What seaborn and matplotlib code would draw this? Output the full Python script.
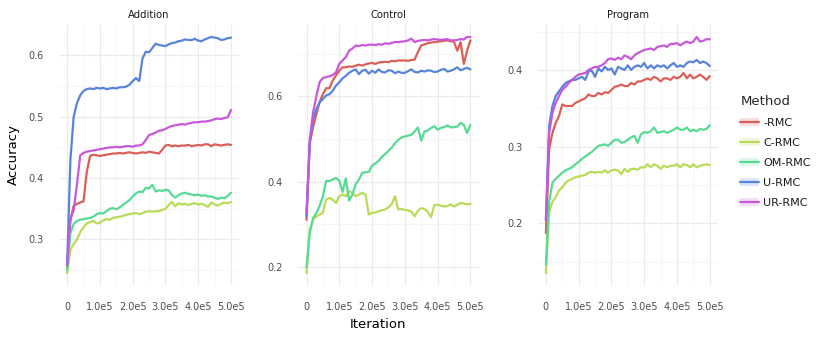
"""Accuracy vs. iteration for the RMC variants, one panel per task."""

import pandas as pd
import matplotlib
matplotlib.use("Agg")
import matplotlib.pyplot as plt
from matplotlib.lines import Line2D
from matplotlib.patches import Patch
from matplotlib.ticker import MultipleLocator, FuncFormatter
import seaborn as sns

# evaluation checkpoints (every 1e4 iterations)
iterations = list(range(0, 500001, 10000))

methods = ["-RMC", "C-RMC", "OM-RMC", "U-RMC", "UR-RMC"]
tasks = ["Addition", "Control", "Program"]

# ── Addition ─────────────────────────────────────────────────────────────────
add_rmc = [0.255, 0.330, 0.355, 0.358, 0.360, 0.362, 0.410, 0.436, 0.438, 0.437,
           0.436, 0.437, 0.438, 0.439, 0.440, 0.440, 0.441, 0.440, 0.441, 0.442,
           0.441, 0.440, 0.441, 0.442, 0.441, 0.443, 0.442, 0.441, 0.440, 0.446,
           0.453, 0.454, 0.452, 0.453, 0.452, 0.453, 0.453, 0.454, 0.452, 0.453,
           0.454, 0.453, 0.455, 0.455, 0.452, 0.455, 0.454, 0.453, 0.454, 0.455,
           0.454]
add_c_rmc = [0.245, 0.283, 0.292, 0.300, 0.312, 0.320, 0.326, 0.328, 0.330, 0.326,
             0.327, 0.331, 0.333, 0.332, 0.335, 0.336, 0.337, 0.338, 0.340, 0.341,
             0.342, 0.343, 0.341, 0.343, 0.345, 0.346, 0.345, 0.346, 0.346, 0.348,
             0.350, 0.356, 0.361, 0.354, 0.359, 0.357, 0.358, 0.356, 0.358, 0.359,
             0.357, 0.358, 0.356, 0.353, 0.360, 0.357, 0.355, 0.358, 0.360, 0.359,
             0.361]
add_om_rmc = [0.250, 0.310, 0.325, 0.330, 0.332, 0.333, 0.334, 0.335, 0.337, 0.341,
              0.343, 0.342, 0.346, 0.350, 0.351, 0.349, 0.352, 0.356, 0.360, 0.364,
              0.370, 0.375, 0.378, 0.377, 0.384, 0.383, 0.389, 0.378, 0.380, 0.379,
              0.381, 0.380, 0.372, 0.368, 0.372, 0.375, 0.376, 0.374, 0.373, 0.372,
              0.373, 0.371, 0.372, 0.370, 0.370, 0.368, 0.366, 0.368, 0.367, 0.371,
              0.376]
add_u_rmc = [0.257, 0.430, 0.500, 0.522, 0.535, 0.542, 0.545, 0.546, 0.545, 0.547,
             0.546, 0.547, 0.545, 0.546, 0.547, 0.546, 0.548, 0.548, 0.549, 0.552,
             0.558, 0.563, 0.558, 0.595, 0.606, 0.605, 0.612, 0.619, 0.617, 0.616,
             0.615, 0.618, 0.620, 0.621, 0.623, 0.624, 0.626, 0.625, 0.625, 0.627,
             0.624, 0.623, 0.626, 0.628, 0.630, 0.629, 0.628, 0.625, 0.626, 0.628,
             0.629]
add_ur_rmc = [0.258, 0.335, 0.347, 0.390, 0.437, 0.441, 0.443, 0.444, 0.445, 0.446,
              0.447, 0.448, 0.449, 0.450, 0.450, 0.451, 0.450, 0.451, 0.452, 0.452,
              0.451, 0.453, 0.453, 0.455, 0.462, 0.470, 0.472, 0.474, 0.477, 0.478,
              0.480, 0.483, 0.485, 0.486, 0.487, 0.488, 0.487, 0.489, 0.490, 0.491,
              0.491, 0.492, 0.492, 0.493, 0.494, 0.496, 0.497, 0.496, 0.498, 0.499,
              0.511]

# ── Control ──────────────────────────────────────────────────────────────────
ctl_rmc = [0.311, 0.492, 0.527, 0.558, 0.586, 0.605, 0.619, 0.619, 0.637, 0.649,
           0.660, 0.668, 0.668, 0.670, 0.669, 0.672, 0.674, 0.672, 0.675, 0.677,
           0.678, 0.676, 0.679, 0.680, 0.681, 0.680, 0.683, 0.682, 0.684, 0.684,
           0.684, 0.683, 0.685, 0.686, 0.704, 0.719, 0.722, 0.724, 0.726, 0.727,
           0.728, 0.729, 0.730, 0.731, 0.729, 0.728, 0.707, 0.727, 0.676, 0.707,
           0.731]
ctl_c_rmc = [0.186, 0.288, 0.311, 0.319, 0.323, 0.327, 0.358, 0.362, 0.358, 0.350,
             0.366, 0.370, 0.366, 0.378, 0.374, 0.366, 0.370, 0.374, 0.370, 0.323,
             0.327, 0.328, 0.331, 0.333, 0.335, 0.340, 0.348, 0.366, 0.335, 0.336,
             0.334, 0.333, 0.330, 0.319, 0.332, 0.338, 0.336, 0.330, 0.317, 0.345,
             0.346, 0.344, 0.342, 0.343, 0.347, 0.342, 0.346, 0.350, 0.349, 0.347,
             0.348]
ctl_om_rmc = [0.200, 0.280, 0.315, 0.327, 0.343, 0.366, 0.402, 0.402, 0.405, 0.409,
              0.402, 0.376, 0.408, 0.356, 0.370, 0.394, 0.405, 0.421, 0.422, 0.423,
              0.438, 0.443, 0.449, 0.458, 0.465, 0.472, 0.480, 0.490, 0.498, 0.504,
              0.506, 0.508, 0.510, 0.518, 0.527, 0.496, 0.518, 0.520, 0.526, 0.530,
              0.522, 0.526, 0.528, 0.532, 0.527, 0.528, 0.529, 0.538, 0.533, 0.514,
              0.533]
ctl_u_rmc = [0.320, 0.490, 0.547, 0.570, 0.586, 0.594, 0.602, 0.605, 0.613, 0.625,
             0.633, 0.642, 0.648, 0.655, 0.660, 0.663, 0.652, 0.660, 0.662, 0.653,
             0.660, 0.655, 0.663, 0.657, 0.656, 0.661, 0.660, 0.654, 0.658, 0.655,
             0.655, 0.659, 0.663, 0.657, 0.656, 0.660, 0.658, 0.661, 0.660, 0.657,
             0.658, 0.662, 0.664, 0.658, 0.660, 0.663, 0.668, 0.661, 0.664, 0.667,
             0.663]
ctl_ur_rmc = [0.327, 0.500, 0.562, 0.600, 0.633, 0.643, 0.645, 0.647, 0.650, 0.656,
              0.676, 0.684, 0.692, 0.707, 0.712, 0.719, 0.718, 0.720, 0.719, 0.721,
              0.721, 0.720, 0.722, 0.721, 0.724, 0.723, 0.725, 0.727, 0.727, 0.728,
              0.729, 0.731, 0.735, 0.727, 0.730, 0.731, 0.732, 0.731, 0.733, 0.734,
              0.733, 0.732, 0.733, 0.734, 0.731, 0.731, 0.732, 0.734, 0.733, 0.739,
              0.739]

# ── Program ──────────────────────────────────────────────────────────────────
prg_rmc = [0.187, 0.297, 0.318, 0.331, 0.340, 0.355, 0.353, 0.353, 0.353, 0.357,
           0.359, 0.361, 0.363, 0.368, 0.366, 0.366, 0.370, 0.368, 0.371, 0.370,
           0.374, 0.378, 0.379, 0.381, 0.379, 0.379, 0.383, 0.381, 0.385, 0.385,
           0.387, 0.389, 0.387, 0.391, 0.389, 0.385, 0.389, 0.389, 0.387, 0.391,
           0.389, 0.391, 0.396, 0.389, 0.394, 0.389, 0.391, 0.394, 0.391, 0.387,
           0.392]
prg_c_rmc = [0.135, 0.215, 0.228, 0.234, 0.243, 0.247, 0.253, 0.256, 0.258, 0.260,
             0.261, 0.262, 0.263, 0.266, 0.267, 0.266, 0.267, 0.266, 0.269, 0.266,
             0.269, 0.270, 0.269, 0.264, 0.271, 0.267, 0.271, 0.271, 0.270, 0.273,
             0.273, 0.277, 0.273, 0.277, 0.275, 0.271, 0.275, 0.273, 0.275, 0.275,
             0.277, 0.273, 0.277, 0.276, 0.273, 0.277, 0.273, 0.275, 0.276, 0.277,
             0.276]
prg_om_rmc = [0.146, 0.228, 0.253, 0.258, 0.262, 0.266, 0.269, 0.271, 0.273, 0.277,
              0.280, 0.284, 0.287, 0.290, 0.293, 0.297, 0.301, 0.302, 0.303, 0.301,
              0.305, 0.309, 0.309, 0.305, 0.306, 0.309, 0.312, 0.314, 0.305, 0.316,
              0.319, 0.318, 0.320, 0.325, 0.318, 0.319, 0.320, 0.318, 0.320, 0.322,
              0.325, 0.322, 0.322, 0.325, 0.320, 0.322, 0.320, 0.323, 0.322, 0.323,
              0.328]
prg_u_rmc = [0.204, 0.327, 0.353, 0.366, 0.372, 0.378, 0.383, 0.385, 0.387, 0.387,
             0.389, 0.391, 0.387, 0.398, 0.399, 0.391, 0.402, 0.398, 0.404, 0.400,
             0.402, 0.394, 0.404, 0.402, 0.400, 0.406, 0.400, 0.404, 0.406, 0.404,
             0.409, 0.402, 0.406, 0.402, 0.406, 0.404, 0.406, 0.402, 0.406, 0.409,
             0.404, 0.406, 0.404, 0.409, 0.411, 0.410, 0.413, 0.409, 0.411, 0.409,
             0.405]
prg_ur_rmc = [0.204, 0.318, 0.344, 0.357, 0.366, 0.374, 0.378, 0.383, 0.387, 0.391,
              0.394, 0.395, 0.396, 0.400, 0.402, 0.404, 0.404, 0.406, 0.409, 0.414,
              0.415, 0.413, 0.416, 0.414, 0.419, 0.417, 0.414, 0.419, 0.422, 0.424,
              0.426, 0.427, 0.428, 0.426, 0.430, 0.431, 0.432, 0.430, 0.434, 0.434,
              0.435, 0.432, 0.435, 0.437, 0.435, 0.437, 0.443, 0.437, 0.438, 0.440,
              0.440]

series = {
    "Addition": [add_rmc, add_c_rmc, add_om_rmc, add_u_rmc, add_ur_rmc],
    "Control": [ctl_rmc, ctl_c_rmc, ctl_om_rmc, ctl_u_rmc, ctl_ur_rmc],
    "Program": [prg_rmc, prg_c_rmc, prg_om_rmc, prg_u_rmc, prg_ur_rmc],
}

rows = []
for task in tasks:
    for method, vals in zip(methods, series[task]):
        for it, v in zip(iterations, vals):
            rows.append((task, method, it, v))
df = pd.DataFrame(rows, columns=["Task", "Method", "Iteration", "Accuracy"])

# ── style ────────────────────────────────────────────────────────────────────
sns.set_style("white")
plt.rcParams["font.family"] = ["DejaVu Sans"]
palette = sns.color_palette("hls", len(methods))
TEXT = "#4D4D4D"

fig, axes = plt.subplots(1, 3, figsize=(8.3, 3.4), dpi=100)
fig.subplots_adjust(left=0.071, right=0.865, bottom=0.162, top=0.926, wspace=0.328)

minor_y = {"Addition": 0.05, "Control": 0.1, "Program": 0.05}


def sci_fmt(x, pos):
    if x == 0:
        return "0"
    return f"{x / 1e5:.1f}e5"


for ax, task in zip(axes, tasks):
    sns.lineplot(data=df[df["Task"] == task], x="Iteration", y="Accuracy",
                 hue="Method", hue_order=methods, palette=palette,
                 linewidth=1.6, legend=False, ax=ax)
    ax.set_title(task, fontsize=7.2, color="#1A1A1A", pad=5)
    ax.set_xlabel("")
    ax.set_ylabel("")
    ax.margins(x=0.05, y=0.05)
    ax.xaxis.set_major_locator(MultipleLocator(1e5))
    ax.xaxis.set_minor_locator(MultipleLocator(5e4))
    ax.xaxis.set_major_formatter(FuncFormatter(sci_fmt))
    ax.yaxis.set_major_locator(MultipleLocator(2 * minor_y[task]))
    ax.yaxis.set_minor_locator(MultipleLocator(minor_y[task]))
    ax.yaxis.set_major_formatter(FuncFormatter(lambda v, p: f"{v:.1f}"))
    ax.grid(which="major", color="#EBEBEB", linewidth=0.9)
    ax.grid(which="minor", color="#F5F5F5", linewidth=0.6)
    ax.set_axisbelow(True)
    ax.tick_params(which="both", length=0, labelsize=7, labelcolor=TEXT)
    ax.tick_params(axis="y", pad=11)
    ax.tick_params(axis="x", pad=12)
    for s in ax.spines.values():
        s.set_visible(False)

fig.text(378 / 830, 1 - 324 / 340, "Iteration", ha="center", va="center",
         fontsize=9.5, color="black")
fig.text(13 / 830, 1 - 155 / 340, "Accuracy", ha="center", va="center",
         rotation=90, fontsize=9.5, color="black")

handles = [(Patch(facecolor=c, alpha=0.2, edgecolor="none"),
            Line2D([], [], color=c, linewidth=1.6)) for c in palette]
leg = fig.legend(handles, methods, title="Method", loc="upper left",
                 bbox_to_anchor=(0.88, 0.75), frameon=False, fontsize=8,
                 title_fontsize=9.5, labelspacing=0.9, handlelength=1.7,
                 handletextpad=0.35, alignment="left")
for t in leg.get_texts():
    t.set_color("#1A1A1A")

fig.savefig("out.png", dpi=100)
plt.close(fig)
